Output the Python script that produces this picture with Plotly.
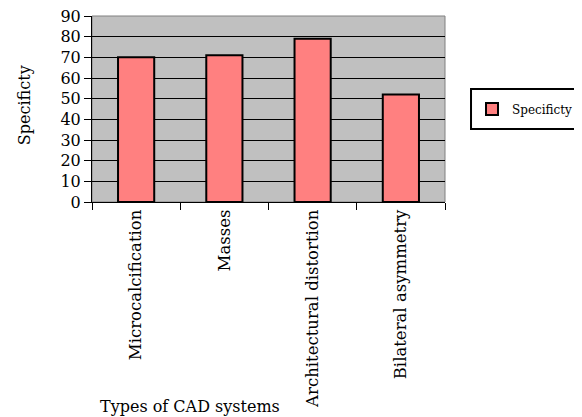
import plotly.graph_objects as go

categories = ["Microcalcification", "Masses", "Architectural distortion", "Bilateral asymmetry"]
specificity = [70, 71, 79, 52]
y_ticks = [0, 10, 20, 30, 40, 50, 60, 70, 80, 90]

FONT = "DejaVu Serif"
OFF = 8  # page body margin

fig = go.Figure()
fig.add_trace(go.Bar(
    x=categories, y=specificity, name="Specificty",
    marker=dict(color="#FF8080", line=dict(color="black", width=2)),
    width=0.41,
))

fig.update_layout(
    width=582 - OFF, height=417 - OFF,
    margin=dict(l=92 - OFF, r=137, t=16 - OFF, b=215, autoexpand=False),
    paper_bgcolor="white", plot_bgcolor="#C0C0C0",
    font=dict(family=FONT, size=16, color="black"),
    showlegend=True,
    legend=dict(x=1.0765, y=0.5, xanchor="left", yanchor="middle",
                borderwidth=0, bgcolor="rgba(0,0,0,0)",
                font=dict(family=FONT, size=12)),
    xaxis=dict(tickangle=-90, tickson="boundaries", ticks="outside", ticklen=7,
               tickcolor="black", showline=True, linecolor="black", linewidth=1,
               showgrid=False, tickfont=dict(size=16.5), automargin=False),
    yaxis=dict(range=[0, 90], tickvals=y_ticks, ticks="outside", ticklen=7,
               tickcolor="black", showline=True, linecolor="black", linewidth=1,
               gridcolor="black", gridwidth=1, tickfont=dict(size=16),
               zeroline=False, automargin=False, ticklabeloverflow="allow"),
    shapes=[
        dict(type="rect", xref="paper", yref="paper", x0=0, x1=1, y0=0, y1=1,
             line=dict(color="#808080", width=1), layer="below"),
        dict(type="rect", xref="paper", yref="paper", x0=1.0737, x1=1.6,
             y0=0.392, y1=0.6075, line=dict(color="black", width=2),
             fillcolor="white", layer="below"),
    ],
    annotations=[
        dict(text="Specificty", xref="paper", yref="paper", x=-0.193, y=0.52,
             xanchor="center", yanchor="middle",
             textangle=-90, showarrow=False, font=dict(size=16)),
        dict(text="Types of CAD systems", xref="paper", yref="paper",
             x=0.278, y=-1.097, xanchor="center", yanchor="middle",
             showarrow=False, font=dict(size=16)),
    ],
)

fig.write_html("out.html")
